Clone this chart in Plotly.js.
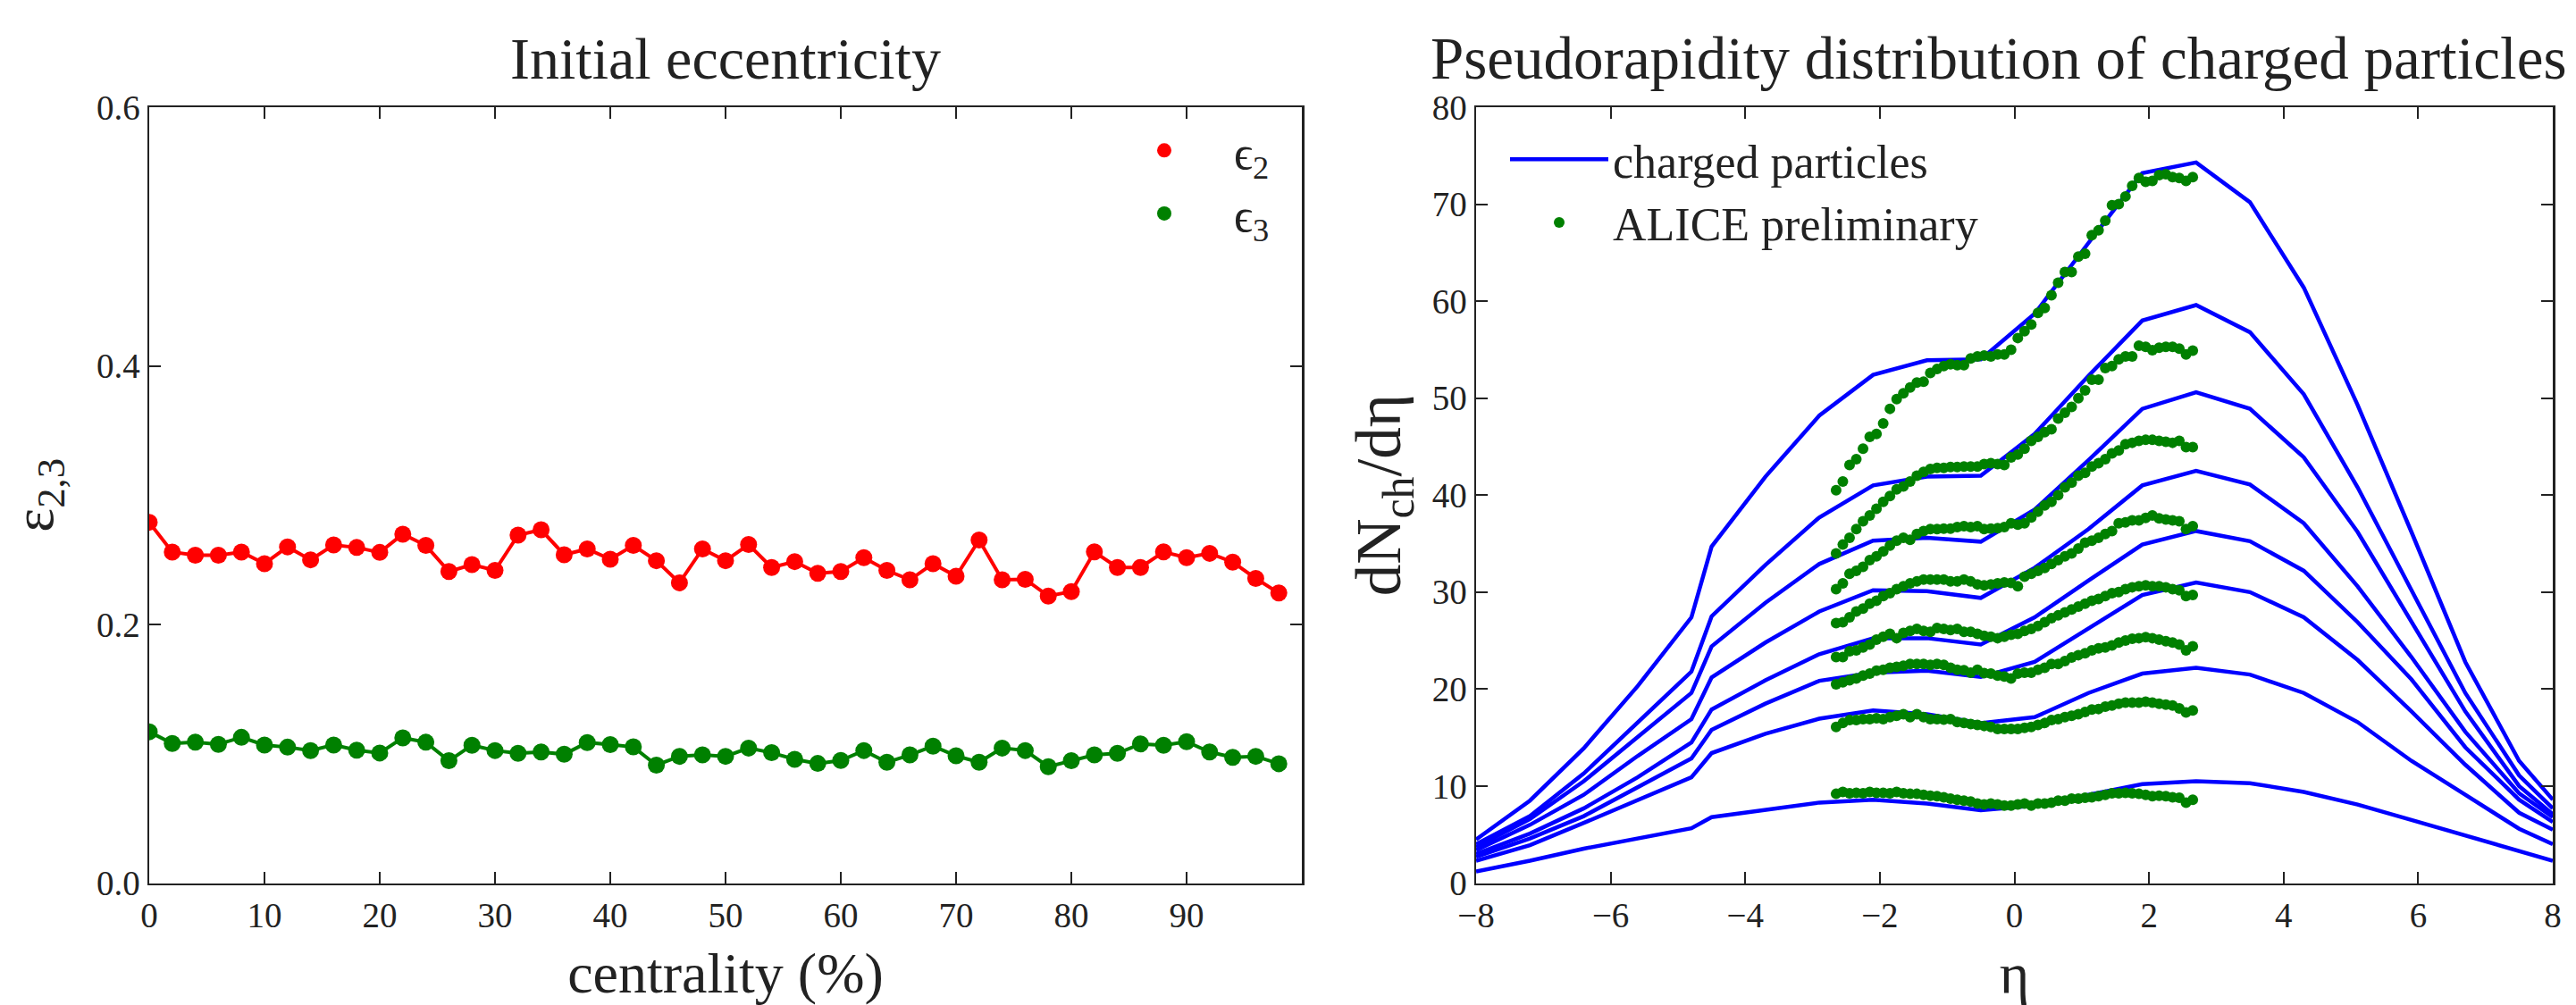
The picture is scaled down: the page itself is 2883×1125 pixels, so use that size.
<!DOCTYPE html>
<html><head><meta charset="utf-8">
<script src="https://cdn.plot.ly/plotly-3.0.1.min.js"></script>
<style>html,body{margin:0;padding:0;background:#fff}#chart{width:2883px;height:1125px}</style>
</head><body><div id="chart"></div>
<script>
// ---- left panel: initial eccentricity ----
const centrality = [0,2,4,6,8,10,12,14,16,18,20,22,24,26,28,30,32,34,36,38,40,42,44,46,48,50,52,54,56,58,60,62,64,66,68,70,72,74,76,78,80,82,84,86,88,90,92,94,96,98];
const eps2 = [0.279,0.256,0.2535,0.2535,0.256,0.247,0.260,0.250,0.2615,0.2595,0.2557,0.2698,0.2611,0.2409,0.2463,0.2418,0.2691,0.2732,0.2539,0.2584,0.2504,0.2611,0.2493,0.2322,0.2584,0.2493,0.2618,0.2441,0.2486,0.2395,0.2409,0.2516,0.2418,0.2345,0.247,0.2373,0.2653,0.2345,0.2349,0.222,0.2254,0.2561,0.2441,0.2441,0.2561,0.2516,0.255,0.2482,0.2356,0.2243];
const eps3 = [0.117,0.108,0.109,0.1073,0.1127,0.1068,0.1051,0.1024,0.1068,0.1028,0.1006,0.1123,0.1089,0.0946,0.1066,0.1025,0.1003,0.1014,0.0996,0.1087,0.1071,0.1053,0.0912,0.098,0.0991,0.098,0.1044,0.1008,0.0957,0.0925,0.0948,0.1025,0.0934,0.0991,0.1059,0.0984,0.0934,0.1044,0.1025,0.09,0.0946,0.0991,0.1003,0.1076,0.1066,0.1093,0.1014,0.0973,0.098,0.0923];
const centralityTicks = [0,10,20,30,40,50,60,70,80,90];
const epsTicks = [0,0.2,0.4,0.6];

// ---- right panel: model curves ----
const etaModel = [-8,-7.2,-6.4,-5.6,-4.8,-4.5,-3.7,-2.9,-2.1,-1.3,-0.5,0.3,1.1,1.9,2.7,3.5,4.3,5.1,5.9,6.7,7.5,8];
const model1 = [4.5,8.5,13.9,20.3,27.4,34.7,41.9,48.2,52.4,53.9,54.0,58.7,66.0,73.2,74.3,70.2,61.4,49.3,36.2,22.8,12.6,8.6];
const model2 = [4.0,6.9,11.3,16.5,21.8,27.5,32.8,37.7,41.0,41.9,42.0,46.3,52.3,58.0,59.6,56.8,50.4,40.8,30.2,19.6,11.1,7.7];
const model3 = [3.7,6.6,10.5,15.1,19.6,24.4,28.9,32.9,35.3,35.6,35.2,38.5,43.6,48.9,50.6,48.9,43.9,36.2,27.0,17.7,10.0,7.1];
const model4 = [3.4,6.0,9.1,13.1,16.9,21.2,24.8,28.0,30.2,30.1,29.4,32.5,36.5,41.0,42.5,41.1,37.1,30.6,23.3,15.6,9.25,6.8];
const model5 = [3.0,5.1,7.7,10.9,14.5,17.9,20.9,23.6,25.25,25.25,24.6,27.4,31.2,34.9,36.3,35.25,32.2,26.9,21.0,14.0,8.6,6.3];
const model6 = [2.7,4.6,6.9,9.9,12.85,15.8,18.5,20.85,21.7,21.9,21.25,22.8,26.3,29.7,31.0,30.0,27.4,23.0,17.7,12.2,7.25,5.5];
const model7 = [2.3,3.9,6.2,8.5,10.9,13.4,15.4,16.95,17.8,17.4,16.5,17.1,19.6,21.6,22.2,21.5,19.6,16.6,12.6,9.1,5.6,4.0];
const model8 = [1.2,2.3,3.55,4.6,5.65,6.8,7.6,8.3,8.6,8.2,7.5,8.0,9.1,10.2,10.5,10.3,9.4,8.1,6.5,4.9,3.25,2.3];

// ---- right panel: ALICE preliminary points ----
const etaData = [-2.65,-2.55,-2.45,-2.35,-2.25,-2.15,-2.05,-1.95,-1.85,-1.75,-1.65,-1.55,-1.45,-1.35,-1.25,-1.15,-1.05,-0.95,-0.85,-0.75,-0.65,-0.55,-0.45,-0.35,-0.25,-0.15,-0.05,0.05,0.15,0.25,0.35,0.45,0.55,0.65,0.75,0.85,0.95,1.05,1.15,1.25,1.35,1.45,1.55,1.65,1.75,1.85,1.95,2.05,2.15,2.25,2.35,2.45,2.55,2.65];
const alice1 = [40.5,41.4,43.1,43.7,44.8,46.0,46.3,47.4,48.9,49.9,50.5,51.1,51.6,51.7,52.6,53.0,53.3,53.5,53.4,53.4,54.1,54.3,54.4,54.3,54.5,54.5,55.0,56.2,56.9,57.6,58.8,59.3,60.6,61.9,63.0,63.0,64.6,64.9,66.8,67.3,68.3,69.9,70.0,70.8,71.9,72.7,72.3,72.4,73.0,73.1,72.8,72.7,72.4,72.8];
const alice2 = [34.0,34.9,35.6,36.5,37.3,37.9,38.6,39.3,39.9,40.6,40.9,41.4,42.0,42.4,42.7,42.8,42.8,42.9,42.9,42.95,42.95,42.95,43.2,43.3,43.2,43.1,43.9,44.2,44.8,45.6,46.0,46.5,46.8,47.9,48.5,49.1,50.0,50.8,51.9,51.9,53.1,53.3,54.0,54.3,54.3,55.4,55.3,54.95,55.2,55.3,55.3,55.1,54.5,54.9];
const alice3 = [30.3,30.9,31.9,32.2,32.6,33.3,33.7,34.2,34.8,35.3,35.6,35.4,36.0,36.3,36.5,36.5,36.55,36.55,36.7,36.8,36.7,36.8,36.5,36.55,36.6,36.7,37.1,36.95,37.1,37.7,38.3,38.95,39.3,40.0,40.8,41.3,42.0,42.3,42.95,43.3,43.7,44.3,44.6,45.25,45.4,45.6,45.7,45.7,45.6,45.5,45.4,45.6,44.95,44.95];
const alice4 = [26.8,26.9,27.4,28.0,28.3,28.8,29.1,29.6,29.9,30.3,30.6,30.9,31.1,31.3,31.3,31.3,31.3,31.1,31.1,31.3,31.1,30.8,30.7,30.8,30.9,31.0,30.95,30.6,31.6,31.9,32.2,32.5,32.9,33.3,33.7,34.0,34.5,35.1,35.3,35.6,36.0,36.3,37.1,37.2,37.4,37.4,37.65,37.9,37.6,37.5,37.4,37.3,36.5,36.8];
const alice5 = [23.3,23.3,23.9,24.0,24.3,24.6,25.1,25.4,25.7,25.25,25.8,26.0,26.2,26.0,25.9,26.3,26.2,26.1,26.2,25.9,25.9,25.7,25.5,25.4,25.25,25.4,25.6,25.7,26.0,26.2,26.5,26.9,27.3,27.6,27.9,28.2,28.5,28.8,29.1,29.3,29.6,29.9,30.0,30.3,30.5,30.6,30.7,30.6,30.6,30.5,30.3,30.2,29.6,29.7];
const alice6 = [20.5,20.7,20.9,21.1,21.4,21.6,21.9,22.0,22.2,22.3,22.4,22.6,22.6,22.6,22.5,22.6,22.5,22.2,22.0,21.95,21.7,22.0,21.65,21.6,21.4,21.3,21.1,21.6,21.7,21.7,22.0,22.2,22.6,22.6,22.9,23.25,23.5,23.7,24.0,24.2,24.3,24.5,24.8,25.0,25.2,25.25,25.35,25.25,25.1,24.95,24.8,24.6,24.0,24.4];
const alice7 = [16.1,16.5,16.8,16.8,16.9,16.9,17.0,16.9,17.1,17.25,17.4,17.1,17.4,17.1,16.9,16.9,16.85,16.9,16.6,16.5,16.4,16.3,16.2,16.1,15.9,15.9,15.9,15.9,16.0,16.1,16.3,16.5,16.8,16.9,17.1,17.25,17.4,17.65,17.9,17.95,18.2,18.3,18.5,18.6,18.6,18.6,18.7,18.6,18.5,18.4,18.3,18.0,17.6,17.8];
const alice8 = [9.2,9.4,9.25,9.3,9.25,9.4,9.3,9.3,9.25,9.4,9.25,9.2,9.2,9.1,9.0,8.95,8.85,8.7,8.6,8.5,8.4,8.2,8.1,8.2,8.1,8.0,8.0,8.1,8.2,8.0,8.2,8.2,8.3,8.5,8.5,8.7,8.7,8.8,8.85,8.95,9.1,9.25,9.25,9.3,9.25,9.2,9.1,8.95,9.0,8.95,8.85,8.8,8.3,8.6];

const models = [model1,model2,model3,model4,model5,model6,model7,model8];
const alices = [alice1,alice2,alice3,alice4,alice5,alice6,alice7,alice8];

const FONT = '"Liberation Serif", "DejaVu Serif", serif';
const INK = '#222222';
const RED = '#ff0000', GREEN = '#008000', BLUE = '#0000ff';

const traces = [];
traces.push({x: centrality, y: eps2, xaxis:'x', yaxis:'y', mode:'lines+markers', showlegend:false,
  line:{color:RED, width:4}, marker:{color:RED, size:19}});
traces.push({x: centrality, y: eps3, xaxis:'x', yaxis:'y', mode:'lines+markers', showlegend:false,
  line:{color:GREEN, width:4}, marker:{color:GREEN, size:19}});
// legend-only entries (dots only, as in the reference legend)
traces.push({x:[null], y:[null], xaxis:'x', yaxis:'y', mode:'markers', name:'ϵ<sub>2</sub>', legend:'legend',
  marker:{color:RED, size:19}});
traces.push({x:[null], y:[null], xaxis:'x', yaxis:'y', mode:'markers', name:'ϵ<sub>3</sub>', legend:'legend',
  marker:{color:GREEN, size:19}});

models.forEach((m, i) => {
  traces.push({x: etaModel, y: m, xaxis:'x2', yaxis:'y2', mode:'lines', name:'charged particles',
    legend:'legend2', legendgroup:'model', showlegend: i === 0,
    line:{color:BLUE, width:4.5}});
});
alices.forEach((a, i) => {
  traces.push({x: etaData, y: a, xaxis:'x2', yaxis:'y2', mode:'markers', name:'ALICE preliminary',
    legend:'legend2', legendgroup:'alice', showlegend: i === 0,
    marker:{color:GREEN, size:12}});
});

const W = 2883, H = 1125;
const yDom = [1 - 988.5/H, 1 - 120/H];
const axisCommon = {
  showline:true, linecolor:INK, linewidth:2.5, mirror:'ticks',
  ticks:'inside', ticklen:13, tickwidth:2, tickcolor:INK,
  showgrid:false, zeroline:false, automargin:false,
  tickfont:{family:FONT, size:39, color:INK}
};

const layout = {
  width:W, height:H,
  margin:{l:0, r:0, t:0, b:0, pad:0},
  paper_bgcolor:'#ffffff', plot_bgcolor:'#ffffff',
  font:{family:FONT, color:INK},
  xaxis: Object.assign({}, axisCommon, {
    domain:[167/W, 1457/W], range:[0, 100], tickvals: centralityTicks,
    title:{text:'centrality (%)', font:{family:FONT, size:64, color:INK}, standoff:32}
  }),
  yaxis: Object.assign({}, axisCommon, {
    domain:yDom, range:[0, 0.6], tickvals: epsTicks, tickformat:'.1f',
    title:{text:'ε<sub>2,3</sub>', font:{family:FONT, size:64, color:INK}, standoff:28}
  }),
  xaxis2: Object.assign({}, axisCommon, {
    domain:[1652/W, 2857/W], range:[-8, 8], dtick:2, tick0:0, anchor:'y2',
    title:{text:'η', font:{family:FONT, size:64, color:INK}, standoff:26}
  }),
  yaxis2: Object.assign({}, axisCommon, {
    domain:yDom, range:[0, 80], dtick:10, tick0:0, anchor:'x2',
    title:{text:'dN<sub>ch</sub>/dη', font:{family:FONT, size:71, color:INK}, standoff:12}
  }),
  legend:{x:1225/W, y:1 - 128/H, xanchor:'left', yanchor:'top', bgcolor:'rgba(0,0,0,0)',
    font:{family:FONT, size:52, color:INK}, tracegroupgap:0, itemwidth:146},
  legend2:{x:1685/W, y:1 - 138/H, xanchor:'left', yanchor:'top', bgcolor:'rgba(0,0,0,0)',
    font:{family:FONT, size:52, color:INK}, tracegroupgap:0, itemwidth:110},
  annotations:[
    {text:'Initial eccentricity', xref:'paper', yref:'paper', x:812/W, y:1 - 104/H,
     xanchor:'center', yanchor:'bottom', showarrow:false, font:{family:FONT, size:66, color:INK}},
    {text:'Pseudorapidity distribution of charged particles', xref:'paper', yref:'paper', x:2237/W, y:1 - 104/H,
     xanchor:'center', yanchor:'bottom', showarrow:false, font:{family:FONT, size:67, color:INK}}
  ]
};

Plotly.newPlot('chart', traces, layout, {staticPlot:true, displayModeBar:false});
</script>
</body></html>
